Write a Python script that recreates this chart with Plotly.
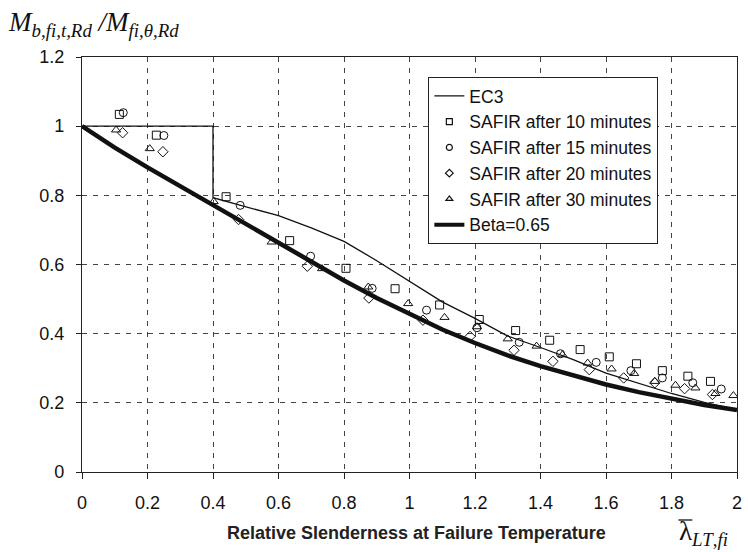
import plotly.graph_objects as go

# ---------------- data ----------------
ec3_x = [0, 0.4, 0.4, 0.5, 0.6, 0.7, 0.8, 0.9, 1.0, 1.1, 1.2, 1.3, 1.4, 1.5, 1.6, 1.7, 1.8, 1.9, 2.0]
ec3_y = [1.0, 1.0, 0.793, 0.767, 0.741, 0.706, 0.667, 0.611, 0.552, 0.492, 0.444, 0.393, 0.360, 0.325, 0.286, 0.256, 0.227, 0.201, 0.180]

beta_x = [0, 0.1, 0.2, 0.3, 0.4, 0.5, 0.6, 0.7, 0.8, 0.9, 1.0, 1.1, 1.2, 1.3, 1.4, 1.5, 1.6, 1.7, 1.8, 1.9, 2.0]
beta_y = [1.0, 0.938, 0.881, 0.826, 0.771, 0.716, 0.661, 0.607, 0.554, 0.503, 0.456, 0.412, 0.373, 0.337, 0.306, 0.278, 0.253, 0.231, 0.212, 0.194, 0.179]

s10_x = [0.114, 0.227, 0.44, 0.634, 0.806, 0.956, 1.092, 1.213, 1.324, 1.428, 1.521, 1.610, 1.693, 1.772, 1.850, 1.919]
s10_y = [1.034, 0.974, 0.796, 0.669, 0.589, 0.530, 0.483, 0.441, 0.409, 0.381, 0.354, 0.333, 0.313, 0.293, 0.277, 0.262]

s15_x = [0.126, 0.250, 0.483, 0.698, 0.886, 1.052, 1.206, 1.335, 1.461, 1.570, 1.676, 1.772, 1.865, 1.952]
s15_y = [1.039, 0.973, 0.771, 0.624, 0.531, 0.468, 0.417, 0.375, 0.342, 0.317, 0.293, 0.272, 0.258, 0.240]

s20_x = [0.124, 0.247, 0.478, 0.688, 0.876, 1.041, 1.185, 1.319, 1.438, 1.549, 1.654, 1.749, 1.840, 1.925]
s20_y = [0.981, 0.926, 0.730, 0.595, 0.503, 0.439, 0.392, 0.352, 0.320, 0.296, 0.272, 0.258, 0.241, 0.224]

s30_x = [0.104, 0.207, 0.402, 0.579, 0.733, 0.874, 0.996, 1.107, 1.206, 1.300, 1.388, 1.467, 1.544, 1.617, 1.686, 1.749, 1.812, 1.873, 1.934, 1.989]
s30_y = [0.989, 0.935, 0.782, 0.665, 0.588, 0.535, 0.487, 0.447, 0.420, 0.385, 0.364, 0.339, 0.315, 0.298, 0.285, 0.262, 0.251, 0.243, 0.227, 0.221]

x_ticks = [0, 0.2, 0.4, 0.6, 0.8, 1, 1.2, 1.4, 1.6, 1.8, 2]
x_labels = ["0", "0.2", "0.4", "0.6", "0.8", "1", "1.2", "1.4", "1.6", "1.8", "2"]
y_ticks = [0, 0.2, 0.4, 0.6, 0.8, 1, 1.2]
y_labels = ["0", "0.2", "0.4", "0.6", "0.8", "1", "1.2"]

series_names = ["EC3", "SAFIR after 10 minutes", "SAFIR after 15 minutes",
                "SAFIR after 20 minutes", "SAFIR after 30 minutes", "Beta=0.65"]

# ---------------- figure ----------------
W, H = 748, 552
ML, MR, MT, MB = 82, 6, 57, 80
PW, PH = W - ML - MR, H - MT - MB

def px(xp):
    return (xp - ML) / PW

def py(yp):
    return (H - MB - yp) / PH

SANS = "Liberation Sans, Arial, sans-serif"
SERIF = "Liberation Serif, Times New Roman, serif"
INK = "#111"

fig = go.Figure()

# data traces (legend handled by small legend-only entries below)
fig.add_trace(go.Scatter(x=ec3_x, y=ec3_y, mode="lines", name=series_names[0],
                         line=dict(color=INK, width=1.3), showlegend=False))
symbols = ["square-open", "circle-open", "diamond-open", "triangle-up-open"]
for sx, sy, sym, nm in zip([s10_x, s15_x, s20_x, s30_x], [s10_y, s15_y, s20_y, s30_y],
                           symbols, series_names[1:5]):
    fig.add_trace(go.Scatter(x=sx, y=sy, mode="markers", name=nm, showlegend=False,
                             marker=dict(symbol=sym, size=8, color=INK,
                                         line=dict(color=INK, width=1))))
fig.add_trace(go.Scatter(x=beta_x, y=beta_y, mode="lines", name=series_names[5],
                         line=dict(color=INK, width=4.5), showlegend=False))

# legend entries (Excel-like small symbols)
fig.add_trace(go.Scatter(x=[None], y=[None], mode="lines", name=series_names[0],
                         line=dict(color=INK, width=1.3)))
for sym, nm in zip(symbols, series_names[1:5]):
    fig.add_trace(go.Scatter(x=[None], y=[None], mode="markers", name=nm,
                             marker=dict(symbol=sym, size=6, color=INK,
                                         line=dict(color=INK, width=1.2))))
fig.add_trace(go.Scatter(x=[None], y=[None], mode="lines", name=series_names[5],
                         line=dict(color=INK, width=4)))

axis_common = dict(showline=True, linecolor="#222", linewidth=1.2, mirror=True,
                   showgrid=True, gridcolor="#444", gridwidth=1, griddash="5px,6px",
                   zeroline=False, ticks="outside", tickcolor="#222",
                   tickfont=dict(family=SANS, size=18, color=INK))

fig.update_xaxes(axis_common, range=[0, 2], tickvals=x_ticks, ticktext=x_labels,
                 ticklen=6, ticklabelstandoff=8)
fig.update_yaxes(axis_common, range=[0, 1.2], tickvals=y_ticks, ticktext=y_labels,
                 ticklen=5, ticklabelstandoff=8)

fig.update_layout(
    width=W, height=H,
    margin=dict(l=ML, r=MR, t=MT, b=MB),
    paper_bgcolor="white", plot_bgcolor="white",
    font=dict(family=SANS, size=18, color=INK),
    showlegend=True,
    legend=dict(x=px(431), y=py(77), xanchor="left", yanchor="top",
                bgcolor="white", bordercolor="#222", borderwidth=1,
                font=dict(family=SANS, size=17.5, color=INK),
                tracegroupgap=0, itemwidth=30),
    annotations=[
        dict(xref="paper", yref="paper", x=px(5), y=py(24), xanchor="left", yanchor="middle",
             showarrow=False,
             text="<i>M</i><sub><i>b,fi,t,Rd</i></sub> <i>/M</i><sub><i>fi,θ,Rd</i></sub>",
             font=dict(family=SERIF, size=27, color=INK)),
        dict(xref="paper", yref="paper", x=px(419), y=py(533), xanchor="center", yanchor="middle",
             showarrow=False, text="<b>Relative Slenderness at Failure Temperature</b>",
             font=dict(family=SANS, size=18, color="#222")),
        dict(xref="paper", yref="paper", x=px(682), y=py(533), xanchor="left", yanchor="middle",
             showarrow=False, text="λ<sub><i>LT</i>,<i>fi</i></sub>",
             font=dict(family=SERIF, size=27, color=INK)),
    ],
    shapes=[
        dict(type="line", xref="paper", yref="paper", x0=px(683), x1=px(697),
             y0=py(520), y1=py(520), line=dict(color=INK, width=1.3)),
    ],
)

fig.write_html("out.html")
